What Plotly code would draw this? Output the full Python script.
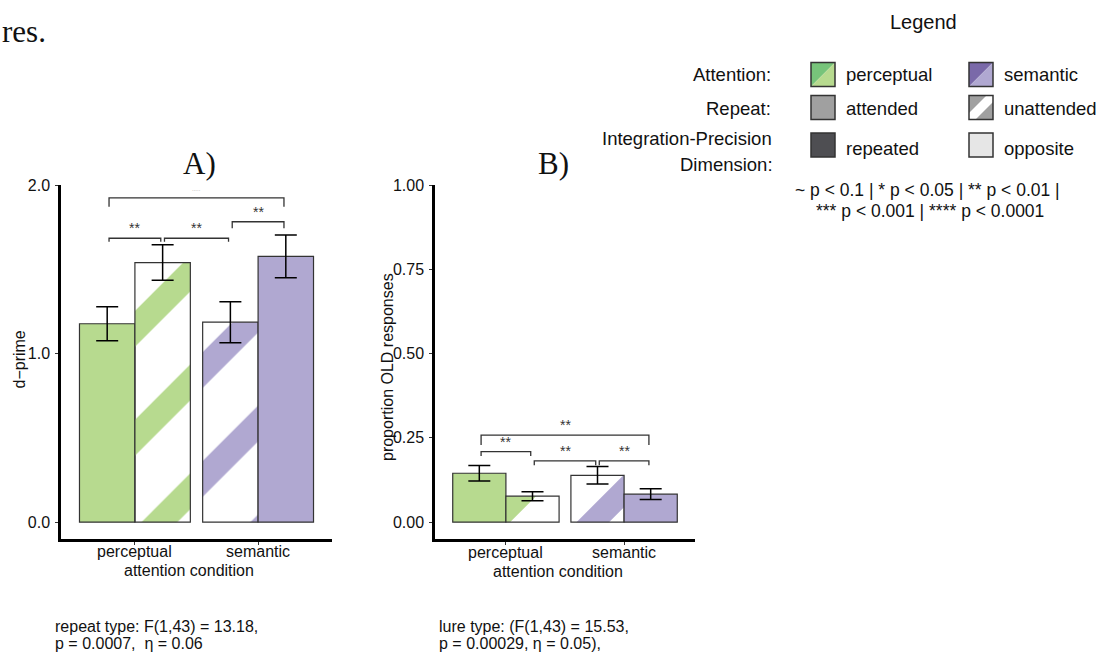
import plotly.graph_objects as go

# ---------------- data ----------------
categories = ["perceptual", "semantic"]

# Panel A: d-prime
dprime_attended = [1.177, 1.577]
dprime_attended_se = [0.101, 0.127]
dprime_unattended = [1.540, 1.186]
dprime_unattended_se = [0.105, 0.122]

# Panel B: proportion OLD responses
old_attended = [0.145, 0.083]
old_attended_se = [0.023, 0.016]
old_unattended = [0.077, 0.139]
old_unattended_se = [0.0135, 0.026]

# order of bars inside each category group (True -> attended bar first)
attended_first = [True, False]

# significance brackets: (left bar slot, right bar slot, height, tip, label)
brackets_A = [
    (0, 3, 1.924, 0.053, "....."),
    (0, 1, 1.684, 0.020, "**"),
    (1, 2, 1.684, 0.020, "**"),
    (2, 3, 1.782, 0.039, "**"),
]
brackets_B = [
    (0, 3, 0.258, 0.029, "**"),
    (0, 1, 0.209, 0.013, "**"),
    (1, 2, 0.182, 0.013, "**"),
    (2, 3, 0.182, 0.013, "**"),
]

stats_A = ["repeat type: F(1,43) = 13.18,", "p = 0.0007,  \u03b7 = 0.06"]
stats_B = ["lure type: (F(1,43) = 15.53,", "p = 0.00029, \u03b7 = 0.05),"]

# ---------------- style ----------------
W, H = 1110, 654
GREEN = "#B7DA8F"
PURPLE = "#B0A8D1"
GREEN_D = "#77C47A"
PURPLE_D = "#7A69A9"
GREY = "#A0A0A0"
REPEATED = "#4E4E52"
OPPOSITE = "#E6E6E6"
OUTLINE = "#333333"
SANS = "Liberation Sans, Arial, sans-serif"
SERIF = "Liberation Serif, Times New Roman, serif"
cat_colors = [GREEN, PURPLE]
BAR_HALF = 0.225


def px(x):
    return x / W


def py(y):
    return 1 - y / H


def split(vals_att, vals_un):
    left, right = [], []
    for i, af in enumerate(attended_first):
        if af:
            left.append(vals_att[i]); right.append(vals_un[i])
        else:
            left.append(vals_un[i]); right.append(vals_att[i])
    return left, right


def shapes_for(first):
    out = []
    for af in attended_first:
        is_att = af if first else (not af)
        out.append("" if is_att else "/")
    return out


fig = go.Figure()


def add_panel(att, att_se, un, un_se, xa, ya, psize, psol):
    lv, rv = split(att, un)
    lse, rse = split(att_se, un_se)
    for vals, se, first in ((lv, lse, True), (rv, rse, False)):
        fig.add_trace(go.Bar(
            x=[0, 1], y=vals, xaxis=xa, yaxis=ya, showlegend=False,
            marker=dict(
                color=cat_colors,
                line=dict(color=OUTLINE, width=1.2),
                pattern=dict(shape=shapes_for(first), fgcolor=cat_colors,
                             bgcolor="white", fillmode="replace",
                             size=psize, solidity=psol),
            ),
            error_y=dict(type="data", array=se, color="black",
                         thickness=1.5, width=11),
        ))


add_panel(dprime_attended, dprime_attended_se, dprime_unattended,
          dprime_unattended_se, "x", "y", 77, 0.33)
add_panel(old_attended, old_attended_se, old_unattended,
          old_unattended_se, "x2", "y2", 70, 0.33)


def slot_x(k):
    return k // 2 + (-BAR_HALF if k % 2 == 0 else BAR_HALF)


annotations = []


def add_brackets(brs, xa, ya):
    for (a, b, yv, tip, lab) in brs:
        x0 = slot_x(a) + 0.015
        x1 = slot_x(b) - 0.015
        fig.add_trace(go.Scatter(
            x=[x0, x0, x1, x1], y=[yv - tip, yv, yv, yv - tip],
            mode="lines", line=dict(color=OUTLINE, width=1.3),
            xaxis=xa, yaxis=ya, showlegend=False, hoverinfo="skip",
            cliponaxis=False,
        ))
        small = lab.startswith(".")
        annotations.append(dict(
            x=(x0 + x1) / 2, y=yv, xref=xa, yref=ya,
            text=lab, showarrow=False, yanchor="bottom",
            yshift=0 if not small else 4,
            font=dict(family=SANS, size=14 if not small else 6,
                      color=OUTLINE if not small else "#999999"),
        ))


add_brackets(brackets_A, "x", "y")
add_brackets(brackets_B, "x2", "y2")

axis_common = dict(showline=True, linecolor="black", linewidth=2.5,
                   ticks="outside", ticklen=3, tickcolor="#333",
                   showgrid=False, zeroline=False, automargin=False,
                   tickfont=dict(family=SANS, size=16, color="#111"))

fig.update_layout(
    template="none",
    width=W, height=H,
    margin=dict(l=0, r=0, t=0, b=0, pad=0, autoexpand=False),
    paper_bgcolor="white", plot_bgcolor="white",
    barmode="group", bargap=0.1, bargroupgap=0,
    xaxis=dict(domain=[px(61), px(332)], range=[-0.6, 1.6], anchor="y",
               tickvals=[0, 1], showticklabels=False, **axis_common),
    yaxis=dict(domain=[py(539), py(185)], range=[-0.1, 2.0], anchor="x",
               tickvals=[0, 1, 2], tickformat=".1f", ticklabelstandoff=2,
               **axis_common),
    xaxis2=dict(domain=[px(435), px(695)], range=[-0.6, 1.6], anchor="y2",
                tickvals=[0, 1], showticklabels=False, **axis_common),
    yaxis2=dict(domain=[py(539), py(185)], range=[-0.05, 1.0], anchor="x2",
                tickvals=[0, 0.25, 0.5, 0.75, 1.0], tickformat=".2f",
                ticklabelstandoff=2, **axis_common),
)


def txt(x, y, s, size=16, anchor="center", family=SANS, angle=0,
        color="#111"):
    annotations.append(dict(
        x=px(x), y=py(y), xref="paper", yref="paper", text=s,
        showarrow=False, xanchor=anchor, yanchor="middle",
        textangle=angle, font=dict(family=family, size=size, color=color)))


# category tick labels under the x-axis ticks
for xa, ylab in (("x", 551.7), ("x2", 552.5)):
    for i, c in enumerate(categories):
        annotations.append(dict(x=i, y=py(ylab), xref=xa, yref="paper",
                                text=c, showarrow=False, yanchor="middle",
                                font=dict(family=SANS, size=16,
                                          color="#111")))

# titles and axis titles
txt(0, 31, "res.", size=31, anchor="left", family=SERIF)
txt(199, 163, "A)", size=31, family=SERIF)
txt(553, 164, "B)", size=31, family=SERIF)
txt(18.5, 360, "d\u2212prime", angle=-90)
txt(387, 367, "proportion OLD responses", angle=-90)
txt(189, 570, "attention condition")
txt(558, 571.5, "attention condition")

# stats text
txt(53, 626, stats_A[0], anchor="left")
txt(53, 643, stats_A[1], anchor="left")
txt(437, 626, stats_B[0], anchor="left")
txt(437, 643, stats_B[1], anchor="left")

# legend block
LF = 18.5
txt(923, 21.5, "Legend", size=20)
txt(773, 75, "Attention:", size=LF, anchor="right")
txt(773, 108, "Repeat:", size=LF, anchor="right")
txt(774, 138.5, "Integration-Precision", size=LF, anchor="right")
txt(775, 165, "Dimension:", size=LF, anchor="right")
txt(844, 74.5, "perceptual", size=LF, anchor="left")
txt(844, 108, "attended", size=LF, anchor="left")
txt(844, 148, "repeated", size=LF, anchor="left")
txt(1002, 74.5, "semantic", size=LF, anchor="left")
txt(1002, 108, "unattended", size=LF, anchor="left")
txt(1002, 148, "opposite", size=LF, anchor="left")
txt(927.5, 190, "~ p < 0.1 | * p < 0.05 | ** p < 0.01 |", size=17.5)
txt(930, 211, "*** p < 0.001 | **** p < 0.0001", size=17.5)

shapes = []


def path(points, fill):
    d = "M " + " L ".join(f"{px(x)},{py(y)}" for x, y in points) + " Z"
    shapes.append(dict(type="path", path=d, xref="paper", yref="paper",
                       fillcolor=fill, line=dict(width=0), layer="above"))


def box(x0, y0, s):
    shapes.append(dict(type="rect", x0=px(x0), x1=px(x0 + s),
                       y0=py(y0 + s), y1=py(y0), xref="paper", yref="paper",
                       line=dict(color=OUTLINE, width=1.5),
                       fillcolor="rgba(0,0,0,0)", layer="above"))


def split_swatch(x0, y0, s, dark, light):
    path([(x0, y0), (x0 + s, y0), (x0, y0 + s)], dark)
    path([(x0 + s, y0), (x0 + s, y0 + s), (x0, y0 + s)], light)
    box(x0, y0, s)


def solid_swatch(x0, y0, s, c):
    path([(x0, y0), (x0 + s, y0), (x0 + s, y0 + s), (x0, y0 + s)], c)
    box(x0, y0, s)


def hatch_swatch(x0, y0, s, c):
    path([(x0, y0), (x0 + s, y0), (x0 + s, y0 + s), (x0, y0 + s)], c)
    d = 0.27 * s
    path([(x0, y0 + s - d), (x0, y0 + s), (x0 + d, y0 + s),
          (x0 + s, y0 + d), (x0 + s, y0), (x0 + s - d, y0)], "white")
    box(x0, y0, s)


S = 24
split_swatch(811, 62.5, S, GREEN_D, GREEN)
split_swatch(969, 62.5, S, PURPLE_D, PURPLE)
solid_swatch(811, 95.5, S, GREY)
hatch_swatch(969, 95.5, S, GREY)
solid_swatch(811, 133, S, REPEATED)
solid_swatch(969, 133, S, OPPOSITE)

fig.update_layout(annotations=annotations, shapes=shapes)
fig.write_html("out.html",
               config={"displayModeBar": False},
               post_script="document.body.style.margin='0px';")
